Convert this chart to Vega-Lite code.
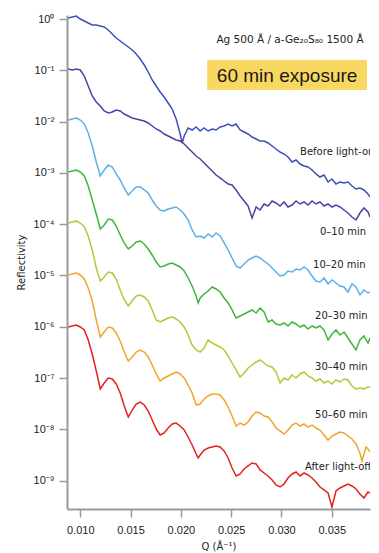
{
"$schema":"https://vega.github.io/schema/vega-lite/v6.json",
"width":303,"height":494,
"autosize":{"type":"none"},
"padding":{"left":67,"top":15,"right":9,"bottom":44},
"background":"white",
"config":{"view":{"stroke":null},"font":"DejaVu Sans",
"axis":{"grid":false,"domainColor":"#9a9a9a","domainWidth":2,"tickColor":"#9a9a9a","tickWidth":1.5,"tickSize":8,"labelColor":"#222222","labelFontSize":11,"labelFont":"Liberation Sans","titleFont":"DejaVu Sans","titleFontSize":10,"titleFontWeight":"normal","titleColor":"#222222"}},
"datasets":{
"curves":[
{"run":"before","Q":0.00881,"log10R":0.019},{"run":"before","Q":0.00921,"log10R":0.039},{"run":"before","Q":0.0096,"log10R":0.058},{"run":"before","Q":0.01,"log10R":0},{"run":"before","Q":0.0104,"log10R":-0.039},{"run":"before","Q":0.01079,"log10R":-0.078},{"run":"before","Q":0.01119,"log10R":-0.117},{"run":"before","Q":0.01159,"log10R":-0.117},{"run":"before","Q":0.01199,"log10R":-0.136},{"run":"before","Q":0.01238,"log10R":-0.156},{"run":"before","Q":0.01278,"log10R":-0.214},{"run":"before","Q":0.01318,"log10R":-0.292},{"run":"before","Q":0.01357,"log10R":-0.37},{"run":"before","Q":0.01397,"log10R":-0.429},{"run":"before","Q":0.01437,"log10R":-0.487},{"run":"before","Q":0.01477,"log10R":-0.546},{"run":"before","Q":0.01516,"log10R":-0.604},{"run":"before","Q":0.01556,"log10R":-0.682},{"run":"before","Q":0.01596,"log10R":-0.78},{"run":"before","Q":0.01636,"log10R":-0.897},{"run":"before","Q":0.01675,"log10R":-1.033},{"run":"before","Q":0.01715,"log10R":-1.189},{"run":"before","Q":0.01755,"log10R":-1.306},{"run":"before","Q":0.01794,"log10R":-1.423},{"run":"before","Q":0.01834,"log10R":-1.52},{"run":"before","Q":0.01874,"log10R":-1.637},{"run":"before","Q":0.01914,"log10R":-1.754},{"run":"before","Q":0.01953,"log10R":-1.949},{"run":"before","Q":0.01993,"log10R":-2.242},{"run":"before","Q":0.02013,"log10R":-2.417},{"run":"before","Q":0.02033,"log10R":-2.281},{"run":"before","Q":0.02072,"log10R":-2.125},{"run":"before","Q":0.02112,"log10R":-2.164},{"run":"before","Q":0.02152,"log10R":-2.105},{"run":"before","Q":0.02192,"log10R":-2.183},{"run":"before","Q":0.02231,"log10R":-2.125},{"run":"before","Q":0.02271,"log10R":-2.183},{"run":"before","Q":0.02311,"log10R":-2.144},{"run":"before","Q":0.0235,"log10R":-2.164},{"run":"before","Q":0.0239,"log10R":-2.105},{"run":"before","Q":0.0243,"log10R":-2.086},{"run":"before","Q":0.0247,"log10R":-2.047},{"run":"before","Q":0.02509,"log10R":-2.086},{"run":"before","Q":0.02549,"log10R":-2.047},{"run":"before","Q":0.02589,"log10R":-2.164},{"run":"before","Q":0.02629,"log10R":-2.203},{"run":"before","Q":0.02668,"log10R":-2.242},{"run":"before","Q":0.02708,"log10R":-2.3},{"run":"before","Q":0.02748,"log10R":-2.339},{"run":"before","Q":0.02787,"log10R":-2.378},{"run":"before","Q":0.02827,"log10R":-2.378},{"run":"before","Q":0.02867,"log10R":-2.417},{"run":"before","Q":0.02907,"log10R":-2.476},{"run":"before","Q":0.02946,"log10R":-2.534},{"run":"before","Q":0.02986,"log10R":-2.593},{"run":"before","Q":0.03026,"log10R":-2.632},{"run":"before","Q":0.03065,"log10R":-2.69},{"run":"before","Q":0.03105,"log10R":-2.788},{"run":"before","Q":0.03145,"log10R":-2.749},{"run":"before","Q":0.03185,"log10R":-2.827},{"run":"before","Q":0.03224,"log10R":-2.866},{"run":"before","Q":0.03264,"log10R":-2.885},{"run":"before","Q":0.03304,"log10R":-2.943},{"run":"before","Q":0.03343,"log10R":-3.021},{"run":"before","Q":0.03383,"log10R":-3.08},{"run":"before","Q":0.03423,"log10R":-3.041},{"run":"before","Q":0.03463,"log10R":-3.177},{"run":"before","Q":0.03502,"log10R":-3.119},{"run":"before","Q":0.03542,"log10R":-3.216},{"run":"before","Q":0.03582,"log10R":-3.177},{"run":"before","Q":0.03622,"log10R":-3.197},{"run":"before","Q":0.03661,"log10R":-3.177},{"run":"before","Q":0.03701,"log10R":-3.255},{"run":"before","Q":0.03741,"log10R":-3.314},{"run":"before","Q":0.0378,"log10R":-3.294},{"run":"before","Q":0.0382,"log10R":-3.333},{"run":"before","Q":0.0386,"log10R":-3.411},{"run":"before","Q":0.0388,"log10R":-3.47},
{"run":"0-10","Q":0.00881,"log10R":-0.975},{"run":"0-10","Q":0.00921,"log10R":-0.994},{"run":"0-10","Q":0.0096,"log10R":-0.975},{"run":"0-10","Q":0.01,"log10R":-0.994},{"run":"0-10","Q":0.0104,"log10R":-1.111},{"run":"0-10","Q":0.01079,"log10R":-1.306},{"run":"0-10","Q":0.01119,"log10R":-1.501},{"run":"0-10","Q":0.01159,"log10R":-1.618},{"run":"0-10","Q":0.01199,"log10R":-1.696},{"run":"0-10","Q":0.01238,"log10R":-1.793},{"run":"0-10","Q":0.01278,"log10R":-1.832},{"run":"0-10","Q":0.01318,"log10R":-1.813},{"run":"0-10","Q":0.01357,"log10R":-1.774},{"run":"0-10","Q":0.01397,"log10R":-1.793},{"run":"0-10","Q":0.01437,"log10R":-1.852},{"run":"0-10","Q":0.01477,"log10R":-1.891},{"run":"0-10","Q":0.01516,"log10R":-1.93},{"run":"0-10","Q":0.01556,"log10R":-1.949},{"run":"0-10","Q":0.01596,"log10R":-1.969},{"run":"0-10","Q":0.01636,"log10R":-1.988},{"run":"0-10","Q":0.01675,"log10R":-2.027},{"run":"0-10","Q":0.01715,"log10R":-2.086},{"run":"0-10","Q":0.01755,"log10R":-2.144},{"run":"0-10","Q":0.01794,"log10R":-2.183},{"run":"0-10","Q":0.01834,"log10R":-2.242},{"run":"0-10","Q":0.01874,"log10R":-2.281},{"run":"0-10","Q":0.01914,"log10R":-2.32},{"run":"0-10","Q":0.01953,"log10R":-2.359},{"run":"0-10","Q":0.01993,"log10R":-2.378},{"run":"0-10","Q":0.02033,"log10R":-2.437},{"run":"0-10","Q":0.02072,"log10R":-2.515},{"run":"0-10","Q":0.02112,"log10R":-2.593},{"run":"0-10","Q":0.02152,"log10R":-2.671},{"run":"0-10","Q":0.02192,"log10R":-2.729},{"run":"0-10","Q":0.02231,"log10R":-2.807},{"run":"0-10","Q":0.02271,"log10R":-2.885},{"run":"0-10","Q":0.02311,"log10R":-2.963},{"run":"0-10","Q":0.0235,"log10R":-3.041},{"run":"0-10","Q":0.0239,"log10R":-3.099},{"run":"0-10","Q":0.0243,"log10R":-3.158},{"run":"0-10","Q":0.0247,"log10R":-3.216},{"run":"0-10","Q":0.02509,"log10R":-3.236},{"run":"0-10","Q":0.02549,"log10R":-3.333},{"run":"0-10","Q":0.02589,"log10R":-3.45},{"run":"0-10","Q":0.02629,"log10R":-3.548},{"run":"0-10","Q":0.02668,"log10R":-3.645},{"run":"0-10","Q":0.02708,"log10R":-3.879},{"run":"0-10","Q":0.02748,"log10R":-3.665},{"run":"0-10","Q":0.02787,"log10R":-3.723},{"run":"0-10","Q":0.02827,"log10R":-3.606},{"run":"0-10","Q":0.02867,"log10R":-3.645},{"run":"0-10","Q":0.02907,"log10R":-3.548},{"run":"0-10","Q":0.02946,"log10R":-3.587},{"run":"0-10","Q":0.02986,"log10R":-3.645},{"run":"0-10","Q":0.03026,"log10R":-3.567},{"run":"0-10","Q":0.03065,"log10R":-3.665},{"run":"0-10","Q":0.03105,"log10R":-3.626},{"run":"0-10","Q":0.03145,"log10R":-3.548},{"run":"0-10","Q":0.03185,"log10R":-3.606},{"run":"0-10","Q":0.03224,"log10R":-3.567},{"run":"0-10","Q":0.03264,"log10R":-3.626},{"run":"0-10","Q":0.03304,"log10R":-3.548},{"run":"0-10","Q":0.03343,"log10R":-3.606},{"run":"0-10","Q":0.03383,"log10R":-3.567},{"run":"0-10","Q":0.03423,"log10R":-3.645},{"run":"0-10","Q":0.03463,"log10R":-3.606},{"run":"0-10","Q":0.03502,"log10R":-3.665},{"run":"0-10","Q":0.03542,"log10R":-3.626},{"run":"0-10","Q":0.03582,"log10R":-3.665},{"run":"0-10","Q":0.03622,"log10R":-3.723},{"run":"0-10","Q":0.03661,"log10R":-3.782},{"run":"0-10","Q":0.03701,"log10R":-3.86},{"run":"0-10","Q":0.03741,"log10R":-3.918},{"run":"0-10","Q":0.0378,"log10R":-3.782},{"run":"0-10","Q":0.0382,"log10R":-3.684},{"run":"0-10","Q":0.0386,"log10R":-3.762},{"run":"0-10","Q":0.0388,"log10R":-3.86},
{"run":"10-20","Q":0.00881,"log10R":-1.969},{"run":"10-20","Q":0.00921,"log10R":-1.949},{"run":"10-20","Q":0.0096,"log10R":-1.93},{"run":"10-20","Q":0.01,"log10R":-1.969},{"run":"10-20","Q":0.0104,"log10R":-2.047},{"run":"10-20","Q":0.01079,"log10R":-2.222},{"run":"10-20","Q":0.01119,"log10R":-2.476},{"run":"10-20","Q":0.01159,"log10R":-2.788},{"run":"10-20","Q":0.01199,"log10R":-3.06},{"run":"10-20","Q":0.01238,"log10R":-2.944},{"run":"10-20","Q":0.01278,"log10R":-2.846},{"run":"10-20","Q":0.01318,"log10R":-2.885},{"run":"10-20","Q":0.01357,"log10R":-3.021},{"run":"10-20","Q":0.01397,"log10R":-3.138},{"run":"10-20","Q":0.01437,"log10R":-3.294},{"run":"10-20","Q":0.01477,"log10R":-3.431},{"run":"10-20","Q":0.01516,"log10R":-3.353},{"run":"10-20","Q":0.01556,"log10R":-3.275},{"run":"10-20","Q":0.01596,"log10R":-3.275},{"run":"10-20","Q":0.01636,"log10R":-3.333},{"run":"10-20","Q":0.01675,"log10R":-3.392},{"run":"10-20","Q":0.01715,"log10R":-3.528},{"run":"10-20","Q":0.01755,"log10R":-3.645},{"run":"10-20","Q":0.01794,"log10R":-3.723},{"run":"10-20","Q":0.01834,"log10R":-3.743},{"run":"10-20","Q":0.01874,"log10R":-3.704},{"run":"10-20","Q":0.01914,"log10R":-3.684},{"run":"10-20","Q":0.01953,"log10R":-3.665},{"run":"10-20","Q":0.01993,"log10R":-3.723},{"run":"10-20","Q":0.02033,"log10R":-3.801},{"run":"10-20","Q":0.02072,"log10R":-3.918},{"run":"10-20","Q":0.02112,"log10R":-4.113},{"run":"10-20","Q":0.02152,"log10R":-4.249},{"run":"10-20","Q":0.02192,"log10R":-4.23},{"run":"10-20","Q":0.02231,"log10R":-4.269},{"run":"10-20","Q":0.02271,"log10R":-4.191},{"run":"10-20","Q":0.02311,"log10R":-4.249},{"run":"10-20","Q":0.0235,"log10R":-4.171},{"run":"10-20","Q":0.0239,"log10R":-4.23},{"run":"10-20","Q":0.0243,"log10R":-4.366},{"run":"10-20","Q":0.0247,"log10R":-4.503},{"run":"10-20","Q":0.02509,"log10R":-4.659},{"run":"10-20","Q":0.02549,"log10R":-4.815},{"run":"10-20","Q":0.02589,"log10R":-4.854},{"run":"10-20","Q":0.02629,"log10R":-4.776},{"run":"10-20","Q":0.02668,"log10R":-4.698},{"run":"10-20","Q":0.02708,"log10R":-4.659},{"run":"10-20","Q":0.02748,"log10R":-4.62},{"run":"10-20","Q":0.02787,"log10R":-4.659},{"run":"10-20","Q":0.02827,"log10R":-4.718},{"run":"10-20","Q":0.02867,"log10R":-4.776},{"run":"10-20","Q":0.02907,"log10R":-4.854},{"run":"10-20","Q":0.02946,"log10R":-4.932},{"run":"10-20","Q":0.02986,"log10R":-5.01},{"run":"10-20","Q":0.03026,"log10R":-4.99},{"run":"10-20","Q":0.03065,"log10R":-4.912},{"run":"10-20","Q":0.03105,"log10R":-4.932},{"run":"10-20","Q":0.03145,"log10R":-4.874},{"run":"10-20","Q":0.03185,"log10R":-4.893},{"run":"10-20","Q":0.03224,"log10R":-4.834},{"run":"10-20","Q":0.03264,"log10R":-4.893},{"run":"10-20","Q":0.03304,"log10R":-5.01},{"run":"10-20","Q":0.03343,"log10R":-5.107},{"run":"10-20","Q":0.03383,"log10R":-5.127},{"run":"10-20","Q":0.03423,"log10R":-5.049},{"run":"10-20","Q":0.03463,"log10R":-5.166},{"run":"10-20","Q":0.03502,"log10R":-5.088},{"run":"10-20","Q":0.03542,"log10R":-5.146},{"run":"10-20","Q":0.03582,"log10R":-5.205},{"run":"10-20","Q":0.03622,"log10R":-5.224},{"run":"10-20","Q":0.03661,"log10R":-5.322},{"run":"10-20","Q":0.03701,"log10R":-5.166},{"run":"10-20","Q":0.03741,"log10R":-5.224},{"run":"10-20","Q":0.0378,"log10R":-5.38},{"run":"10-20","Q":0.0382,"log10R":-5.283},{"run":"10-20","Q":0.0386,"log10R":-5.341},{"run":"10-20","Q":0.0388,"log10R":-5.322},
{"run":"20-30","Q":0.00881,"log10R":-2.982},{"run":"20-30","Q":0.00921,"log10R":-2.963},{"run":"20-30","Q":0.0096,"log10R":-2.944},{"run":"20-30","Q":0.01,"log10R":-2.982},{"run":"20-30","Q":0.0104,"log10R":-3.06},{"run":"20-30","Q":0.01079,"log10R":-3.255},{"run":"20-30","Q":0.01119,"log10R":-3.528},{"run":"20-30","Q":0.01159,"log10R":-3.801},{"run":"20-30","Q":0.01199,"log10R":-4.094},{"run":"20-30","Q":0.01238,"log10R":-4.016},{"run":"20-30","Q":0.01278,"log10R":-3.899},{"run":"20-30","Q":0.01318,"log10R":-3.918},{"run":"20-30","Q":0.01357,"log10R":-4.035},{"run":"20-30","Q":0.01397,"log10R":-4.21},{"run":"20-30","Q":0.01437,"log10R":-4.366},{"run":"20-30","Q":0.01477,"log10R":-4.483},{"run":"20-30","Q":0.01516,"log10R":-4.425},{"run":"20-30","Q":0.01556,"log10R":-4.347},{"run":"20-30","Q":0.01596,"log10R":-4.327},{"run":"20-30","Q":0.01636,"log10R":-4.386},{"run":"20-30","Q":0.01675,"log10R":-4.483},{"run":"20-30","Q":0.01715,"log10R":-4.6},{"run":"20-30","Q":0.01755,"log10R":-4.737},{"run":"20-30","Q":0.01794,"log10R":-4.834},{"run":"20-30","Q":0.01834,"log10R":-4.815},{"run":"20-30","Q":0.01874,"log10R":-4.776},{"run":"20-30","Q":0.01914,"log10R":-4.756},{"run":"20-30","Q":0.01953,"log10R":-4.795},{"run":"20-30","Q":0.01993,"log10R":-4.834},{"run":"20-30","Q":0.02033,"log10R":-4.912},{"run":"20-30","Q":0.02072,"log10R":-5.049},{"run":"20-30","Q":0.02112,"log10R":-5.205},{"run":"20-30","Q":0.02152,"log10R":-5.4},{"run":"20-30","Q":0.02172,"log10R":-5.536},{"run":"20-30","Q":0.02192,"log10R":-5.439},{"run":"20-30","Q":0.02231,"log10R":-5.361},{"run":"20-30","Q":0.02271,"log10R":-5.302},{"run":"20-30","Q":0.02311,"log10R":-5.224},{"run":"20-30","Q":0.0235,"log10R":-5.263},{"run":"20-30","Q":0.0239,"log10R":-5.322},{"run":"20-30","Q":0.0243,"log10R":-5.439},{"run":"20-30","Q":0.0247,"log10R":-5.536},{"run":"20-30","Q":0.02509,"log10R":-5.672},{"run":"20-30","Q":0.02549,"log10R":-5.828},{"run":"20-30","Q":0.02589,"log10R":-5.789},{"run":"20-30","Q":0.02629,"log10R":-5.751},{"run":"20-30","Q":0.02668,"log10R":-5.712},{"run":"20-30","Q":0.02708,"log10R":-5.672},{"run":"20-30","Q":0.02748,"log10R":-5.731},{"run":"20-30","Q":0.02787,"log10R":-5.634},{"run":"20-30","Q":0.02827,"log10R":-5.712},{"run":"20-30","Q":0.02867,"log10R":-5.906},{"run":"20-30","Q":0.02907,"log10R":-5.867},{"run":"20-30","Q":0.02946,"log10R":-5.945},{"run":"20-30","Q":0.02986,"log10R":-5.965},{"run":"20-30","Q":0.03026,"log10R":-5.926},{"run":"20-30","Q":0.03065,"log10R":-5.984},{"run":"20-30","Q":0.03105,"log10R":-5.906},{"run":"20-30","Q":0.03145,"log10R":-5.945},{"run":"20-30","Q":0.03185,"log10R":-6.004},{"run":"20-30","Q":0.03224,"log10R":-5.965},{"run":"20-30","Q":0.03264,"log10R":-6.043},{"run":"20-30","Q":0.03304,"log10R":-5.984},{"run":"20-30","Q":0.03343,"log10R":-6.023},{"run":"20-30","Q":0.03383,"log10R":-5.984},{"run":"20-30","Q":0.03423,"log10R":-6.062},{"run":"20-30","Q":0.03463,"log10R":-6.257},{"run":"20-30","Q":0.03502,"log10R":-6.14},{"run":"20-30","Q":0.03542,"log10R":-6.062},{"run":"20-30","Q":0.03582,"log10R":-6.16},{"run":"20-30","Q":0.03622,"log10R":-6.101},{"run":"20-30","Q":0.03661,"log10R":-6.218},{"run":"20-30","Q":0.03701,"log10R":-6.335},{"run":"20-30","Q":0.03741,"log10R":-6.452},{"run":"20-30","Q":0.0378,"log10R":-6.257},{"run":"20-30","Q":0.0382,"log10R":-6.179},{"run":"20-30","Q":0.0386,"log10R":-6.316},{"run":"20-30","Q":0.0388,"log10R":-6.218},
{"run":"30-40","Q":0.00881,"log10R":-3.977},{"run":"30-40","Q":0.00921,"log10R":-3.957},{"run":"30-40","Q":0.0096,"log10R":-3.938},{"run":"30-40","Q":0.01,"log10R":-3.977},{"run":"30-40","Q":0.0104,"log10R":-4.055},{"run":"30-40","Q":0.01079,"log10R":-4.23},{"run":"30-40","Q":0.01119,"log10R":-4.503},{"run":"30-40","Q":0.01159,"log10R":-4.854},{"run":"30-40","Q":0.01199,"log10R":-5.107},{"run":"30-40","Q":0.01238,"log10R":-5.029},{"run":"30-40","Q":0.01278,"log10R":-4.932},{"run":"30-40","Q":0.01318,"log10R":-4.951},{"run":"30-40","Q":0.01357,"log10R":-5.068},{"run":"30-40","Q":0.01397,"log10R":-5.283},{"run":"30-40","Q":0.01437,"log10R":-5.478},{"run":"30-40","Q":0.01477,"log10R":-5.595},{"run":"30-40","Q":0.01516,"log10R":-5.497},{"run":"30-40","Q":0.01556,"log10R":-5.4},{"run":"30-40","Q":0.01596,"log10R":-5.38},{"run":"30-40","Q":0.01636,"log10R":-5.419},{"run":"30-40","Q":0.01675,"log10R":-5.497},{"run":"30-40","Q":0.01715,"log10R":-5.672},{"run":"30-40","Q":0.01755,"log10R":-5.867},{"run":"30-40","Q":0.01794,"log10R":-5.906},{"run":"30-40","Q":0.01834,"log10R":-5.867},{"run":"30-40","Q":0.01874,"log10R":-5.828},{"run":"30-40","Q":0.01914,"log10R":-5.809},{"run":"30-40","Q":0.01953,"log10R":-5.848},{"run":"30-40","Q":0.01993,"log10R":-5.906},{"run":"30-40","Q":0.02033,"log10R":-6.004},{"run":"30-40","Q":0.02072,"log10R":-6.16},{"run":"30-40","Q":0.02112,"log10R":-6.355},{"run":"30-40","Q":0.02152,"log10R":-6.452},{"run":"30-40","Q":0.02192,"log10R":-6.491},{"run":"30-40","Q":0.02231,"log10R":-6.413},{"run":"30-40","Q":0.02271,"log10R":-6.257},{"run":"30-40","Q":0.02311,"log10R":-6.316},{"run":"30-40","Q":0.0235,"log10R":-6.355},{"run":"30-40","Q":0.0239,"log10R":-6.394},{"run":"30-40","Q":0.0243,"log10R":-6.452},{"run":"30-40","Q":0.0247,"log10R":-6.569},{"run":"30-40","Q":0.02509,"log10R":-6.706},{"run":"30-40","Q":0.02549,"log10R":-6.842},{"run":"30-40","Q":0.02589,"log10R":-6.979},{"run":"30-40","Q":0.02629,"log10R":-6.901},{"run":"30-40","Q":0.02668,"log10R":-6.803},{"run":"30-40","Q":0.02708,"log10R":-6.745},{"run":"30-40","Q":0.02748,"log10R":-6.686},{"run":"30-40","Q":0.02787,"log10R":-6.647},{"run":"30-40","Q":0.02827,"log10R":-6.706},{"run":"30-40","Q":0.02867,"log10R":-6.764},{"run":"30-40","Q":0.02907,"log10R":-6.784},{"run":"30-40","Q":0.02946,"log10R":-6.881},{"run":"30-40","Q":0.02986,"log10R":-7.096},{"run":"30-40","Q":0.03026,"log10R":-6.998},{"run":"30-40","Q":0.03065,"log10R":-7.037},{"run":"30-40","Q":0.03105,"log10R":-6.94},{"run":"30-40","Q":0.03145,"log10R":-6.998},{"run":"30-40","Q":0.03185,"log10R":-6.92},{"run":"30-40","Q":0.03224,"log10R":-6.881},{"run":"30-40","Q":0.03264,"log10R":-6.959},{"run":"30-40","Q":0.03304,"log10R":-6.998},{"run":"30-40","Q":0.03343,"log10R":-7.057},{"run":"30-40","Q":0.03383,"log10R":-7.018},{"run":"30-40","Q":0.03423,"log10R":-7.096},{"run":"30-40","Q":0.03463,"log10R":-7.057},{"run":"30-40","Q":0.03502,"log10R":-7.115},{"run":"30-40","Q":0.03542,"log10R":-7.037},{"run":"30-40","Q":0.03582,"log10R":-7.076},{"run":"30-40","Q":0.03622,"log10R":-7.018},{"run":"30-40","Q":0.03661,"log10R":-7.037},{"run":"30-40","Q":0.03701,"log10R":-7.154},{"run":"30-40","Q":0.03741,"log10R":-7.213},{"run":"30-40","Q":0.0378,"log10R":-7.193},{"run":"30-40","Q":0.0382,"log10R":-7.213},{"run":"30-40","Q":0.0386,"log10R":-7.174},{"run":"30-40","Q":0.0388,"log10R":-7.174},
{"run":"50-60","Q":0.00881,"log10R":-4.99},{"run":"50-60","Q":0.00921,"log10R":-4.971},{"run":"50-60","Q":0.0096,"log10R":-4.951},{"run":"50-60","Q":0.01,"log10R":-4.99},{"run":"50-60","Q":0.0104,"log10R":-5.068},{"run":"50-60","Q":0.01079,"log10R":-5.244},{"run":"50-60","Q":0.01119,"log10R":-5.497},{"run":"50-60","Q":0.01159,"log10R":-5.867},{"run":"50-60","Q":0.01199,"log10R":-6.199},{"run":"50-60","Q":0.01238,"log10R":-6.101},{"run":"50-60","Q":0.01278,"log10R":-6.004},{"run":"50-60","Q":0.01318,"log10R":-6.023},{"run":"50-60","Q":0.01357,"log10R":-6.121},{"run":"50-60","Q":0.01397,"log10R":-6.277},{"run":"50-60","Q":0.01437,"log10R":-6.491},{"run":"50-60","Q":0.01477,"log10R":-6.667},{"run":"50-60","Q":0.01516,"log10R":-6.589},{"run":"50-60","Q":0.01556,"log10R":-6.491},{"run":"50-60","Q":0.01596,"log10R":-6.452},{"run":"50-60","Q":0.01636,"log10R":-6.491},{"run":"50-60","Q":0.01675,"log10R":-6.589},{"run":"50-60","Q":0.01715,"log10R":-6.745},{"run":"50-60","Q":0.01755,"log10R":-6.92},{"run":"50-60","Q":0.01794,"log10R":-7.057},{"run":"50-60","Q":0.01834,"log10R":-6.998},{"run":"50-60","Q":0.01874,"log10R":-6.959},{"run":"50-60","Q":0.01914,"log10R":-6.92},{"run":"50-60","Q":0.01953,"log10R":-6.881},{"run":"50-60","Q":0.01993,"log10R":-6.92},{"run":"50-60","Q":0.02033,"log10R":-6.998},{"run":"50-60","Q":0.02072,"log10R":-7.135},{"run":"50-60","Q":0.02112,"log10R":-7.291},{"run":"50-60","Q":0.02152,"log10R":-7.525},{"run":"50-60","Q":0.02192,"log10R":-7.506},{"run":"50-60","Q":0.02231,"log10R":-7.408},{"run":"50-60","Q":0.02271,"log10R":-7.349},{"run":"50-60","Q":0.02311,"log10R":-7.31},{"run":"50-60","Q":0.0235,"log10R":-7.31},{"run":"50-60","Q":0.0239,"log10R":-7.33},{"run":"50-60","Q":0.0243,"log10R":-7.427},{"run":"50-60","Q":0.0247,"log10R":-7.564},{"run":"50-60","Q":0.02509,"log10R":-7.739},{"run":"50-60","Q":0.02549,"log10R":-7.934},{"run":"50-60","Q":0.02589,"log10R":-7.876},{"run":"50-60","Q":0.02629,"log10R":-7.915},{"run":"50-60","Q":0.02668,"log10R":-7.856},{"run":"50-60","Q":0.02708,"log10R":-7.739},{"run":"50-60","Q":0.02748,"log10R":-7.661},{"run":"50-60","Q":0.02787,"log10R":-7.681},{"run":"50-60","Q":0.02827,"log10R":-7.739},{"run":"50-60","Q":0.02867,"log10R":-7.759},{"run":"50-60","Q":0.02907,"log10R":-7.856},{"run":"50-60","Q":0.02946,"log10R":-7.973},{"run":"50-60","Q":0.02986,"log10R":-8.031},{"run":"50-60","Q":0.03026,"log10R":-8.09},{"run":"50-60","Q":0.03065,"log10R":-8.012},{"run":"50-60","Q":0.03105,"log10R":-7.915},{"run":"50-60","Q":0.03145,"log10R":-7.876},{"run":"50-60","Q":0.03185,"log10R":-7.934},{"run":"50-60","Q":0.03224,"log10R":-7.895},{"run":"50-60","Q":0.03264,"log10R":-7.954},{"run":"50-60","Q":0.03304,"log10R":-7.915},{"run":"50-60","Q":0.03343,"log10R":-7.973},{"run":"50-60","Q":0.03383,"log10R":-8.012},{"run":"50-60","Q":0.03423,"log10R":-8.109},{"run":"50-60","Q":0.03463,"log10R":-8.207},{"run":"50-60","Q":0.03502,"log10R":-8.129},{"run":"50-60","Q":0.03542,"log10R":-8.09},{"run":"50-60","Q":0.03582,"log10R":-8.051},{"run":"50-60","Q":0.03622,"log10R":-8.07},{"run":"50-60","Q":0.03661,"log10R":-8.129},{"run":"50-60","Q":0.03701,"log10R":-8.187},{"run":"50-60","Q":0.03741,"log10R":-8.285},{"run":"50-60","Q":0.0378,"log10R":-8.46},{"run":"50-60","Q":0.038,"log10R":-8.616},{"run":"50-60","Q":0.0382,"log10R":-8.48},{"run":"50-60","Q":0.0384,"log10R":-8.343},{"run":"50-60","Q":0.0386,"log10R":-8.382},{"run":"50-60","Q":0.0388,"log10R":-8.441},
{"run":"after","Q":0.00881,"log10R":-6.004},{"run":"after","Q":0.00921,"log10R":-5.984},{"run":"after","Q":0.0096,"log10R":-5.965},{"run":"after","Q":0.01,"log10R":-6.004},{"run":"after","Q":0.0104,"log10R":-6.062},{"run":"after","Q":0.01079,"log10R":-6.257},{"run":"after","Q":0.01119,"log10R":-6.53},{"run":"after","Q":0.01159,"log10R":-6.862},{"run":"after","Q":0.01199,"log10R":-7.213},{"run":"after","Q":0.01238,"log10R":-7.096},{"run":"after","Q":0.01278,"log10R":-6.998},{"run":"after","Q":0.01318,"log10R":-7.018},{"run":"after","Q":0.01357,"log10R":-7.115},{"run":"after","Q":0.01397,"log10R":-7.291},{"run":"after","Q":0.01437,"log10R":-7.545},{"run":"after","Q":0.01477,"log10R":-7.759},{"run":"after","Q":0.01516,"log10R":-7.623},{"run":"after","Q":0.01556,"log10R":-7.506},{"run":"after","Q":0.01596,"log10R":-7.467},{"run":"after","Q":0.01636,"log10R":-7.525},{"run":"after","Q":0.01675,"log10R":-7.642},{"run":"after","Q":0.01715,"log10R":-7.817},{"run":"after","Q":0.01755,"log10R":-7.993},{"run":"after","Q":0.01794,"log10R":-8.109},{"run":"after","Q":0.01834,"log10R":-8.07},{"run":"after","Q":0.01874,"log10R":-7.973},{"run":"after","Q":0.01914,"log10R":-7.895},{"run":"after","Q":0.01953,"log10R":-7.876},{"run":"after","Q":0.01993,"log10R":-7.934},{"run":"after","Q":0.02033,"log10R":-8.012},{"run":"after","Q":0.02072,"log10R":-8.148},{"run":"after","Q":0.02112,"log10R":-8.304},{"run":"after","Q":0.02152,"log10R":-8.48},{"run":"after","Q":0.02172,"log10R":-8.557},{"run":"after","Q":0.02192,"log10R":-8.499},{"run":"after","Q":0.02231,"log10R":-8.402},{"run":"after","Q":0.02271,"log10R":-8.363},{"run":"after","Q":0.02311,"log10R":-8.343},{"run":"after","Q":0.0235,"log10R":-8.324},{"run":"after","Q":0.0239,"log10R":-8.343},{"run":"after","Q":0.0243,"log10R":-8.421},{"run":"after","Q":0.0247,"log10R":-8.557},{"run":"after","Q":0.02509,"log10R":-8.752},{"run":"after","Q":0.02549,"log10R":-8.908},{"run":"after","Q":0.02589,"log10R":-8.869},{"run":"after","Q":0.02629,"log10R":-8.772},{"run":"after","Q":0.02668,"log10R":-8.713},{"run":"after","Q":0.02708,"log10R":-8.655},{"run":"after","Q":0.02748,"log10R":-8.674},{"run":"after","Q":0.02787,"log10R":-8.791},{"run":"after","Q":0.02827,"log10R":-8.85},{"run":"after","Q":0.02867,"log10R":-8.908},{"run":"after","Q":0.02907,"log10R":-8.986},{"run":"after","Q":0.02946,"log10R":-9.084},{"run":"after","Q":0.02986,"log10R":-9.123},{"run":"after","Q":0.03026,"log10R":-9.064},{"run":"after","Q":0.03065,"log10R":-8.947},{"run":"after","Q":0.03105,"log10R":-8.869},{"run":"after","Q":0.03145,"log10R":-8.83},{"run":"after","Q":0.03185,"log10R":-8.908},{"run":"after","Q":0.03224,"log10R":-8.85},{"run":"after","Q":0.03264,"log10R":-8.889},{"run":"after","Q":0.03304,"log10R":-8.947},{"run":"after","Q":0.03343,"log10R":-9.025},{"run":"after","Q":0.03383,"log10R":-9.123},{"run":"after","Q":0.03423,"log10R":-9.181},{"run":"after","Q":0.03463,"log10R":-9.24},{"run":"after","Q":0.03502,"log10R":-9.513},{"run":"after","Q":0.03542,"log10R":-9.201},{"run":"after","Q":0.03582,"log10R":-9.142},{"run":"after","Q":0.03622,"log10R":-9.103},{"run":"after","Q":0.03661,"log10R":-9.064},{"run":"after","Q":0.03701,"log10R":-9.103},{"run":"after","Q":0.03741,"log10R":-9.162},{"run":"after","Q":0.0378,"log10R":-9.259},{"run":"after","Q":0.0382,"log10R":-9.337},{"run":"after","Q":0.0386,"log10R":-9.22},{"run":"after","Q":0.0388,"log10R":-9.24}
],
"labels":[
{"label":"Before light-on","Q":0.03185,"log10R":-2.593},
{"label":"0–10 min","Q":0.03383,"log10R":-4.152},
{"label":"10–20 min","Q":0.03314,"log10R":-4.795},
{"label":"20–30 min","Q":0.03334,"log10R":-5.789},
{"label":"30–40 min","Q":0.03334,"log10R":-6.784},
{"label":"50–60 min","Q":0.03334,"log10R":-7.719},
{"label":"After light-off","Q":0.03234,"log10R":-8.733}
],
"box":[{"Q":0.02261,"Q2":0.0385,"log10R":-0.799,"log10R2":-1.384}],
"notes":[
{"text":"Ag 500 Å / a-Ge₂₀S₈₀ 1500 Å","kind":"spec","Q":0.03085,"log10R":-0.409},
{"text":"60 min exposure","kind":"head","Q":0.03056,"log10R":-1.111}
]
},
"encoding":{
"x":{"field":"Q","type":"quantitative","scale":{"domain":[0.00868,0.0388],"nice":false,"zero":false},
"axis":{"values":[0.010,0.015,0.020,0.025,0.030,0.035],"format":".3f","title":"Q (Å⁻¹)","labelPadding":7,"titlePadding":6}},
"y":{"field":"log10R","type":"quantitative","scale":{"domain":[-9.552,0.078],"nice":false,"zero":false},
"axis":{"values":[0,-1,-2,-3,-4,-5,-6,-7,-8,-9],"title":"Reflectivity","labelPadding":5,"titlePadding":7,
"labelExpr":"datum.value == 0 ? '10⁰' : '10⁻' + ['','¹','²','³','⁴','⁵','⁶','⁷','⁸','⁹'][-datum.value]"}}
},
"layer":[
{"data":{"name":"box"},"mark":{"type":"rect","color":"#f9d862"},
"encoding":{"x2":{"field":"Q2"},"y2":{"field":"log10R2"}}},
{"data":{"name":"curves"},"mark":{"type":"line","strokeWidth":1.5,"clip":true},
"encoding":{"color":{"field":"run","type":"nominal","legend":null,
"scale":{"domain":["before","0-10","10-20","20-30","30-40","50-60","after"],
"range":["#3d50b8","#5b3aa3","#5cb0e8","#3fb53f","#b7c734","#f2a52a","#e2221d"]}}}},
{"data":{"name":"labels"},"mark":{"type":"text","align":"left","baseline":"middle","fontSize":10,"font":"DejaVu Sans","color":"#222222","clip":true},
"encoding":{"text":{"field":"label"}}},
{"data":{"name":"notes"},"transform":[{"filter":"datum.kind == 'spec'"}],
"mark":{"type":"text","align":"center","baseline":"middle","fontSize":10.5,"font":"DejaVu Sans","color":"#222222"},
"encoding":{"text":{"field":"text"}}},
{"data":{"name":"notes"},"transform":[{"filter":"datum.kind == 'head'"}],
"mark":{"type":"text","align":"center","baseline":"middle","fontSize":19,"font":"Liberation Sans","color":"#1a1a1a"},
"encoding":{"text":{"field":"text"}}}
]
}
